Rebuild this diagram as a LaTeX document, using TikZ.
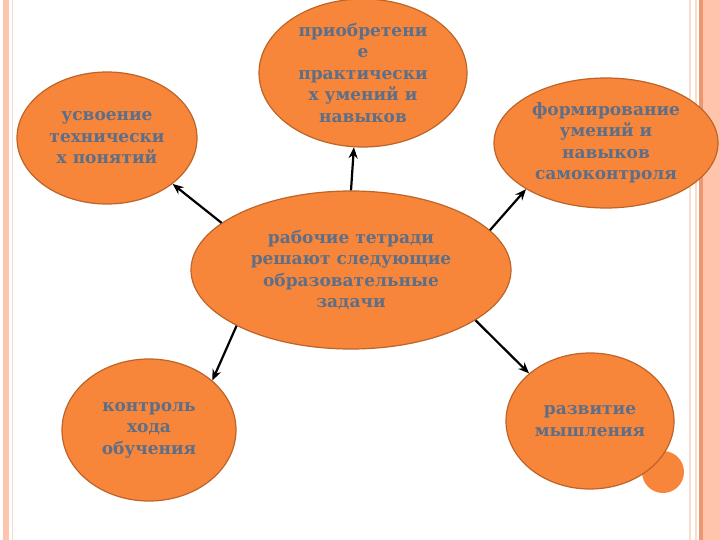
\documentclass[tikz,border=0pt]{standalone}
\usepackage{fontspec}
\setmainfont{DejaVu Serif}
\usetikzlibrary{shapes.geometric, arrows.meta, positioning}
\definecolor{bubbleorange}{RGB}{247, 134, 58}
\definecolor{bubbleedge}{RGB}{190, 100, 40}
\definecolor{labelblue}{RGB}{92, 110, 136}
\definecolor{stripesalmon}{RGB}{255, 196, 172}
\definecolor{stripeline}{RGB}{240, 150, 110}
\definecolor{stripepale}{RGB}{250, 222, 205}

\begin{document}
\begin{tikzpicture}[x=1pt, y=-1pt,
    bubble/.style={ellipse, draw=bubbleedge, line width=1.2pt, fill=bubbleorange, inner sep=0pt, align=center, text=labelblue, font=\bfseries\fontsize{17}{21.5}\selectfont},
    link/.style={-{Stealth[length=11pt, width=9pt]}, line width=2.2pt, black}
]
    \useasboundingbox (0,0) rectangle (720,540);

    % Side stripes
    \fill[white] (0,0) rectangle (720,540);
    \fill[stripesalmon] (3,0) rectangle (9,540);
    \draw[stripepale, line width=0.8pt] (12,0) -- (12,540);
    \draw[stripepale, line width=1.5pt] (690,0) -- (690,540);
    \draw[stripepale, line width=1.5pt] (696,0) -- (696,540);
    \fill[stripeline] (699,0) rectangle (703,540);
    \fill[stripesalmon] (703,0) rectangle (720,540);

    % Small dot behind the lower right bubble
    \fill[bubbleorange] (663,472) circle (21pt);

    % Bubbles
    \node[bubble, minimum width=320pt, minimum height=158pt] (tasks) at (351,270) {рабочие тетради\\решают следующие\\образовательные\\задачи};
    \node[bubble, minimum width=208pt, minimum height=148pt] (skills) at (363,73) {приобретени\\е\\практически\\х умений и\\навыков};
    \node[bubble, minimum width=180pt, minimum height=132pt] (concepts) at (107,138) {усвоение\\технически\\х понятий};
    \node[bubble, minimum width=224pt, minimum height=130pt] (selfcontrol) at (606,143) {формирование\\умений и\\навыков\\самоконтроля};
    \node[bubble, minimum width=174pt, minimum height=142pt] (control) at (149,430) {контроль\\хода\\обучения};
    \node[bubble, minimum width=168pt, minimum height=136pt] (thinking) at (590,421) {развитие\\мышления};

    % Arrows
    \draw[link] (tasks.160) -- (concepts.-35);
    \draw[link] (tasks.90) -- (skills.-97);
    \draw[link] (tasks.16) -- (selfcontrol.-150);
    \draw[link] (tasks.206) -- (control.38);
    \draw[link] (tasks.-22) -- (thinking.142);
\end{tikzpicture}
\end{document}
